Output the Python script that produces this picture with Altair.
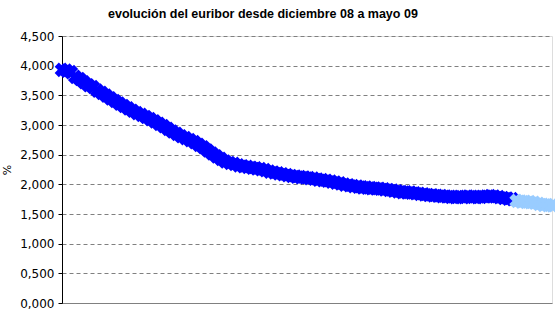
import altair as alt
import pandas as pd

# Daily euribor readings (in thousandths, as displayed with comma decimal)
values_main = [
    3930, 3915, 3890, 3810, 3775, 3720, 3670, 3640, 3580, 3540,
    3495, 3450, 3405, 3360, 3320, 3280, 3240, 3200, 3170, 3135,
    3100, 3060, 3020, 2980, 2935, 2890, 2850, 2810, 2780, 2745,
    2710, 2665, 2625, 2570, 2520, 2470, 2430, 2385, 2360, 2345,
    2320, 2305, 2295, 2280, 2270, 2255, 2240, 2215, 2200, 2185,
    2170, 2155, 2140, 2130, 2120, 2115, 2105, 2095, 2080, 2070,
    2060, 2045, 2030, 2015, 1995, 1985, 1970, 1960, 1950, 1945,
    1935, 1930, 1925, 1915, 1905, 1895, 1880, 1870, 1865, 1860,
    1850, 1840, 1830, 1820, 1815, 1808, 1800, 1795, 1790, 1785,
    1790, 1785, 1795, 1790, 1785, 1790, 1795, 1800, 1795, 1785,
    1770, 1760, 1750,
]
values_light = [1720, 1710, 1705, 1700, 1690, 1670, 1655, 1650, 1645]

y_ticks = [0, 500, 1000, 1500, 2000, 2500, 3000, 3500, 4000, 4500]

n_main = len(values_main)
rows = []
for i, v in enumerate(values_main):
    rows.append({"idx": i, "val": v, "serie": "a"})
for j, v in enumerate(values_light):
    rows.append({"idx": n_main + j, "val": v, "serie": "b"})
df = pd.DataFrame(rows)
n_total = len(df)

FONT = "DejaVu Sans"

chart = alt.Chart(df).mark_point(
    shape="cross", angle=45, filled=True, size=220, opacity=1
).encode(
    x=alt.X("idx:Q", scale=alt.Scale(domain=[0, n_total - 1], nice=False, zero=False),
            axis=alt.Axis(title=None, labels=False, ticks=False, grid=False,
                          domainColor="#808080", domainWidth=1)),
    y=alt.Y("val:Q", scale=alt.Scale(domain=[0, 4500], nice=False),
            axis=alt.Axis(values=y_ticks, title="%",
                          labelExpr="replace(format(datum.value/1000, '.3f'), '.', ',')",
                          labelFont=FONT, labelFontSize=12, labelColor="#000000",
                          labelPadding=4, tickSize=4, tickColor="#000000",
                          domainColor="#000000", domainWidth=1,
                          gridColor="#808080", gridDash=[4, 3], gridWidth=1,
                          titleFont=FONT, titleFontSize=11, titleFontWeight="normal",
                          titleColor="#000000", titleAngle=270, titleX=-55, titleY=133.5,
                          titleAlign="center", titleBaseline="middle")),
    color=alt.Color("serie:N", scale=alt.Scale(domain=["a", "b"], range=["#0000FF", "#99CCFF"]),
                    legend=None),
).properties(
    width=490,
    height=267,
    autosize=alt.AutoSizeParams(type="none"),
    padding={"left": 62, "top": 36, "right": 3, "bottom": 12},
    title=alt.TitleParams(
        "evolución del euribor desde diciembre 08 a mayo 09",
        font="Liberation Sans", fontSize=12.5, fontWeight="bold", color="#000000",
        anchor="start", dx=107, offset=14, dy=14, baseline="alphabetic",
    ),
).configure_view(
    stroke="#808080", strokeWidth=1
).configure(
    background="#ffffff"
)

chart.save("out.html", embed_options={"renderer": "svg", "actions": False})
